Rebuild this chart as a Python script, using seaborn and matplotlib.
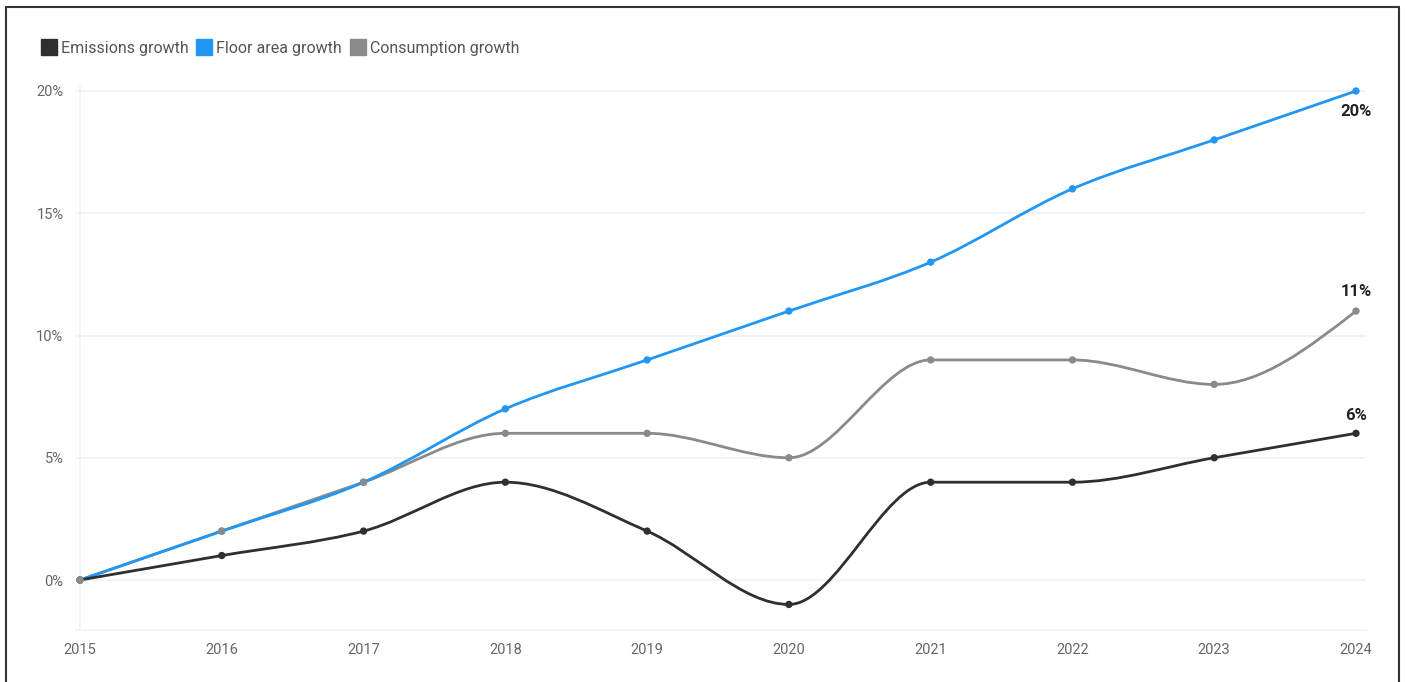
import matplotlib
matplotlib.use("Agg")
import matplotlib.pyplot as plt
from matplotlib.path import Path
from matplotlib.patches import PathPatch
from matplotlib.lines import Line2D
import numpy as np
import pandas as pd
import seaborn as sns

years = [2015, 2016, 2017, 2018, 2019, 2020, 2021, 2022, 2023, 2024]
emissions = [0, 1, 2, 4, 2, -1, 4, 4, 5, 6]
floor_area = [0, 2, 4, 7, 9, 11, 13, 16, 18, 20]
consumption = [0, 2, 4, 6, 6, 5, 9, 9, 8, 11]
series_names = ["Emissions growth", "Floor area growth", "Consumption growth"]
series_colors = ["#2f2f2f", "#2196f3", "#8a8a8a"]
y_ticks = [0, 5, 10, 15, 20]

sns.set_theme(style="white")
FONT = ["Roboto", "DejaVu Sans"]
plt.rcParams["font.family"] = FONT

W, H = 1407, 682
fig = plt.figure(figsize=(W / 100, H / 100), dpi=100)
fig.patch.set_facecolor("white")

# axes placement in pixels
left_px, right_px, top_px, bottom_px = 76, 1366, 85, 630
ax = fig.add_axes([left_px / W, 1 - bottom_px / H,
                   (right_px - left_px) / W, (bottom_px - top_px) / H])

x0_px, x1_px = 80, 1356
ppy = (x1_px - x0_px) / (years[-1] - years[0])
ax.set_xlim(years[0] - (x0_px - left_px) / ppy, years[-1] + (right_px - x1_px) / ppy)
y0_px, y20_px = 580, 91
ppv = (y0_px - y20_px) / 20
ax.set_ylim(-(bottom_px - y0_px) / ppv, 20 + (y20_px - top_px) / ppv)


def monotone_path(xs, ys):
    """Cubic Bezier path through the points with monotone-x tangents."""
    xs = np.asarray(xs, float)
    ys = np.asarray(ys, float)
    n = len(xs)
    h = np.diff(xs)
    s = np.diff(ys) / h
    t = np.zeros(n)
    for i in range(1, n - 1):
        p = (s[i - 1] * h[i] + s[i] * h[i - 1]) / (h[i - 1] + h[i])
        t[i] = (np.sign(s[i - 1]) + np.sign(s[i])) * min(abs(s[i - 1]), abs(s[i]), 0.5 * abs(p))
    t[0] = (3 * s[0] - t[1]) / 2
    t[-1] = (3 * s[-1] - t[-2]) / 2
    verts = [(xs[0], ys[0])]
    codes = [Path.MOVETO]
    for i in range(n - 1):
        dx = h[i] / 3
        verts += [(xs[i] + dx, ys[i] + dx * t[i]),
                  (xs[i + 1] - dx, ys[i + 1] - dx * t[i + 1]),
                  (xs[i + 1], ys[i + 1])]
        codes += [Path.CURVE4] * 3
    return Path(verts, codes)


df = pd.DataFrame({
    "year": years * 3,
    "value": emissions + floor_area + consumption,
    "series": sum([[n] * len(years) for n in series_names], []),
})

# draw order: consumption under floor area, emissions on top
for name, vals, col in [(series_names[2], consumption, series_colors[2]),
                        (series_names[1], floor_area, series_colors[1]),
                        (series_names[0], emissions, series_colors[0])]:
    ax.add_patch(PathPatch(monotone_path(years, vals), facecolor="none",
                           edgecolor=col, lw=2.0, capstyle="round", joinstyle="round",
                           zorder=3))

sns.scatterplot(data=df, x="year", y="value", hue="series", palette=series_colors,
                hue_order=series_names, s=28, edgecolor="none", legend=False,
                ax=ax, zorder=4)

ax.set_xlabel("")
ax.set_ylabel("")
ax.set_xticks(years)
ax.set_xticklabels([str(y) for y in years])
ax.set_yticks(y_ticks)
ax.set_yticklabels([f"{v}%" for v in y_ticks])
ax.tick_params(axis="both", length=0, labelsize=10.5, labelcolor="#666666")
ax.tick_params(axis="x", pad=9)
ax.tick_params(axis="y", pad=9)
for lab in ax.get_xticklabels() + ax.get_yticklabels():
    lab.set_family(FONT)

ax.grid(axis="y", color="#f0f0f0", lw=1.2)
ax.grid(axis="x", visible=False)
for side in ["top", "right", "left"]:
    ax.spines[side].set_visible(False)
ax.spines["bottom"].set_color("#f2f2f2")
ax.spines["bottom"].set_linewidth(1.2)
ax.axvline(years[0], color="#f2f2f2", lw=1.2, zorder=0)

# end-value labels
ax.annotate(f"{floor_area[-1]}%", (years[-1], floor_area[-1]), xytext=(0, -15),
            textcoords="offset points", ha="center", va="center",
            fontsize=12, fontweight="bold", color="#222222", family=FONT)
ax.annotate(f"{consumption[-1]}%", (years[-1], consumption[-1]), xytext=(0, 14),
            textcoords="offset points", ha="center", va="center",
            fontsize=12, fontweight="bold", color="#222222", family=FONT)
ax.annotate(f"{emissions[-1]}%", (years[-1], emissions[-1]), xytext=(0, 13),
            textcoords="offset points", ha="center", va="center",
            fontsize=12, fontweight="bold", color="#222222", family=FONT)

handles = [Line2D([], [], marker="s", linestyle="none", markersize=11,
                  markerfacecolor=c, markeredgecolor=c) for c in series_colors]
fig.legend(handles, series_names, loc="center left",
           bbox_to_anchor=(28 / W, 1 - 48 / H), ncol=3, frameon=False,
           handlelength=0.8, handletextpad=0.35, columnspacing=0.6,
           prop={"family": FONT, "size": 11.5}, labelcolor="#555555")

# outer frame
frame_col = "#333333"
fig.add_artist(Line2D([6 / W, 6 / W], [0, 1 - 7 / H], transform=fig.transFigure,
                      color=frame_col, lw=1.5))
fig.add_artist(Line2D([1399 / W, 1399 / W], [0, 1 - 7 / H], transform=fig.transFigure,
                      color=frame_col, lw=1.5))
fig.add_artist(Line2D([6 / W, 1399 / W], [1 - 7 / H, 1 - 7 / H], transform=fig.transFigure,
                      color=frame_col, lw=1.5))

fig.savefig("out.png", dpi=100, facecolor="white")
